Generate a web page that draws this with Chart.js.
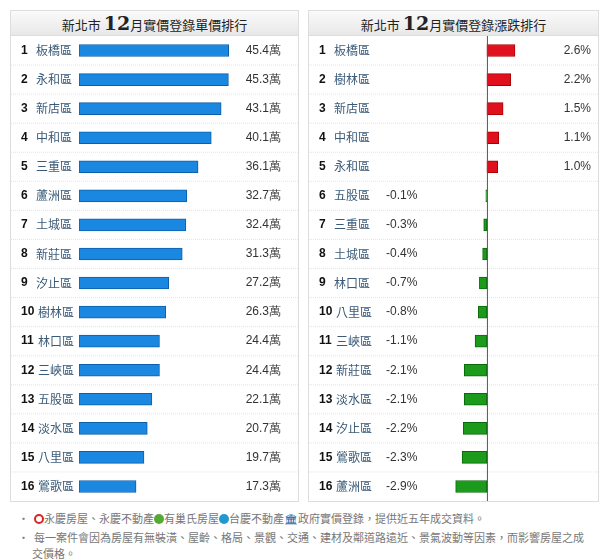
<!DOCTYPE html>
<html><head><meta charset="utf-8">
<script src="https://cdn.jsdelivr.net/npm/chart.js@4"></script>
<style>
body{margin:0;background:#fff;font-family:"Noto Sans CJK TC",sans-serif;}
.panel{position:absolute;top:10px;border:1px solid #ddd;background:#fff;}
.hdr{height:24px;line-height:24px;text-align:center;font-size:13px;color:#222;background:linear-gradient(#fafafa,#e8e8e8);border-bottom:1px solid #ddd;}
.hdr b{font-family:"DejaVu Serif",serif;font-size:19px;}
.notes{position:absolute;top:510px;left:18px;width:570px;font-size:11px;color:#777;line-height:16px;}
.notes div{padding-left:14px;text-indent:-14px;margin-bottom:3px}
.ic{display:inline-block;width:10px;height:10px;border-radius:50%;vertical-align:-1px;}
</style></head><body>
<div class="panel" style="left:10px;width:287px;height:490px"><div class="hdr">新北市 <b>12</b>月實價登錄單價排行</div><canvas id="c1" width="287" height="465"></canvas></div>
<div class="panel" style="left:308px;width:289px;height:490px"><div class="hdr">新北市 <b>12</b>月實價登錄漲跌排行</div><canvas id="c2" width="289" height="465"></canvas></div>
<div class="notes">
<div>•&nbsp; <span class="ic" style="border:2px solid #d22;width:6px;height:6px"></span>永慶房屋、永慶不動產<span class="ic" style="background:#5a3"></span>有巢氏房屋<span class="ic" style="background:#29c"></span>台慶不動產<span style="color:#26a">🏛</span>政府實價登錄，提供近五年成交資料。</div>
<div>•&nbsp; 每一案件會因為房屋有無裝潢、屋齡、格局、景觀、交通、建材及鄰道路遠近、景氣波動等因素，而影響房屋之成交價格。</div>
</div>
<script>
const priceDistricts=["板橋區","永和區","新店區","中和區","三重區","蘆洲區","土城區","新莊區","汐止區","樹林區","林口區","三峽區","五股區","淡水區","八里區","鶯歌區"];
const priceValues=[45.4,45.3,43.1,40.1,36.1,32.7,32.4,31.3,27.2,26.3,24.4,24.4,22.1,20.7,19.7,17.3];
const changeDistricts=["板橋區","樹林區","新店區","中和區","永和區","五股區","三重區","土城區","林口區","八里區","三峽區","新莊區","淡水區","汐止區","鶯歌區","蘆洲區"];
const changeValues=[2.6,2.2,1.5,1.1,1.0,-0.1,-0.3,-0.4,-0.7,-0.8,-1.1,-2.1,-2.1,-2.2,-2.3,-2.9];
Chart.defaults.animation=false;
function rowPlugin(labels,vals,fmt,isChange){return{id:'rows',afterDatasetsDraw(ch){
 const c=ch.ctx,y=ch.scales.y,x=ch.scales.x,W=ch.width;c.save();
 labels.forEach((l,i)=>{const yc=y.getPixelForValue(i),h=y.getPixelForValue(1)-y.getPixelForValue(0);
  if(i<labels.length-1){c.strokeStyle='#e4e4e4';c.setLineDash([1,1]);c.beginPath();c.moveTo(0,yc+h/2);c.lineTo(W,yc+h/2);c.stroke();c.setLineDash([]);}
  c.textBaseline='middle';c.font='bold 12px Arial';c.fillStyle='#111';c.textAlign='left';c.fillText(i+1,10,yc);
  c.font='12px "Noto Sans CJK TC"';c.fillStyle='#3a5a78';c.fillText(l,i>=9?27:25,yc);
  c.font='12px Arial';c.fillStyle='#333';
  if(isChange){if(vals[i]>=0){c.textAlign='right';c.fillText(fmt(vals[i]),282,yc);}else{c.textAlign='left';c.fillText(fmt(vals[i]),77,yc);}}
  else{c.textAlign='right';c.fillText(fmt(vals[i]),270,yc);}
 });
 if(isChange){const x0=x.getPixelForValue(0);c.strokeStyle='#555';c.lineWidth=1;c.beginPath();c.moveTo(x0+0.5,0);c.lineTo(x0+0.5,ch.height);c.stroke();}
 c.restore();}}}
function mk(id,labels,vals,colors,borders,min,max,padL,fmt,isChange){
 new Chart(document.getElementById(id),{type:'bar',data:{labels,datasets:[{data:vals,backgroundColor:colors,borderColor:borders,borderWidth:1,barThickness:12,borderSkipped:false}]},
 options:{indexAxis:'y',responsive:false,layout:{padding:{left:padL,right:0,top:0,bottom:0}},
 plugins:{legend:{display:false},tooltip:{enabled:false}},
 scales:{x:{display:false,min,max},y:{display:false}}},plugins:[rowPlugin(labels,vals,fmt,isChange)]});}
mk('c1',priceDistricts,priceValues,'#1a87e0','#0d5fa8',0,66.4,68,v=>v.toFixed(1)+'萬',false);
mk('c2',changeDistricts,changeValues,changeValues.map(v=>v>=0?'#e0101e':'#1c9a1c'),changeValues.map(v=>v>=0?'#a00':'#0a6a0a'),-16.5,10.3,0,v=>v.toFixed(1)+'%',true);
</script></body></html>
